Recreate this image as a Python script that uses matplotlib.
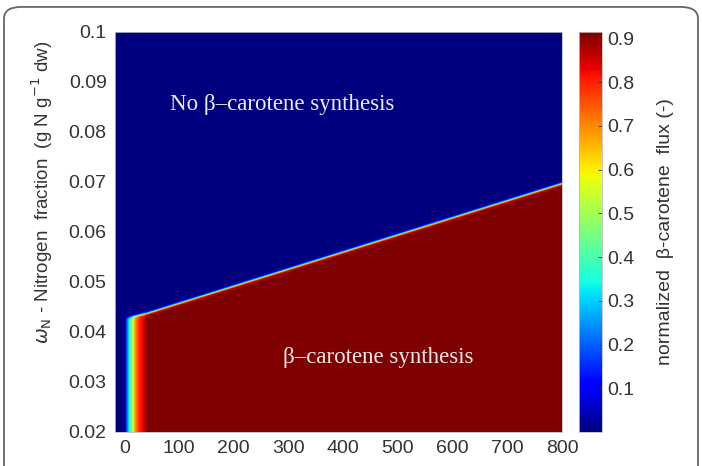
import numpy as np
import matplotlib
matplotlib.use("Agg")
import matplotlib.pyplot as plt
from matplotlib.patches import FancyBboxPatch

light_pts = [-17, 0, 2, 7, 13, 16, 20, 27, 37, 40, 800]
flux_pts = [0.0, 0.0, 0.1, 0.3, 0.45, 0.6, 0.7, 0.8, 0.85, 0.915, 0.915]

# nitrogen threshold above which synthesis stops
border_x = [-17, 0, 40, 800]
border_y = [0.0428, 0.0428, 0.0437, 0.0697]

cbar_ticks = [0.1, 0.2, 0.3, 0.4, 0.5, 0.6, 0.7, 0.8, 0.9]
x_ticks = [0, 100, 200, 300, 400, 500, 600, 700, 800]
y_ticks = [0.02, 0.03, 0.04, 0.05, 0.06, 0.07, 0.08, 0.09, 0.1]

xg = np.linspace(-17, 800, 900)
yg = np.linspace(0.02, 0.1, 1200)
X, Y = np.meshgrid(xg, yg)
prof = np.interp(X, light_pts, flux_pts)
yb = np.interp(X, border_x, border_y)
Z = prof / (1 + np.exp((Y - yb) / 0.00014))

plt.rcParams['font.family'] = ['Liberation Sans', 'DejaVu Sans']
fig = plt.figure(figsize=(7.02, 4.66), dpi=100)

frame = FancyBboxPatch((4 / 702, -0.1), 694 / 702, 1 - 6 / 466 + 0.1 - 0.002,
                       boxstyle="round,pad=0,rounding_size=0.025",
                       transform=fig.transFigure, facecolor='none',
                       edgecolor='#666666', linewidth=1.3, zorder=5)
fig.patches.append(frame)

ax = fig.add_axes([115 / 702, 34 / 466, 447 / 702, 400 / 466])
im = ax.imshow(Z, extent=[-17, 800, 0.02, 0.1], origin='lower', aspect='auto',
               cmap='jet', vmin=0, vmax=0.915, interpolation='bilinear')
ax.set_xlim(-17, 800)
ax.set_ylim(0.02, 0.1)
ax.set_xticks(x_ticks)
ax.set_yticks(y_ticks)
ax.set_yticklabels(['0.02', '0.03', '0.04', '0.05', '0.06', '0.07', '0.08', '0.09', '0.1'])
ax.tick_params(labelsize=14, colors='#333333', length=0, pad=6)
for s in ax.spines.values():
    s.set_color('#bbbbbb')
    s.set_linewidth(0.6)
ax.set_ylabel(r'$\omega_{\rm N}$ - Nitrogen  fraction  (g N g$^{-1}$ dw)',
              fontsize=13.5, color='#333333')
ax.yaxis.set_label_coords(-0.135, 0.6)

ax.text(289, 0.0855, 'No β–carotene synthesis', family=['Liberation Serif', 'DejaVu Serif'],
        fontsize=16.5, color='#ececf4', ha='center', va='center')
ax.text(464, 0.035, 'β–carotene synthesis', family=['Liberation Serif', 'DejaVu Serif'],
        fontsize=16.5, color='#f4e8e8', ha='center', va='center')

cax = fig.add_axes([579 / 702, 34 / 466, 23 / 702, 400 / 466])
cb = fig.colorbar(im, cax=cax, ticks=cbar_ticks)
cb.outline.set_edgecolor('#bbbbbb')
cb.outline.set_linewidth(0.6)
cax.tick_params(labelsize=14, colors='#333333', direction='in', length=3, width=0.6, pad=4)
cb.set_label('normalized  β-carotene  flux (-)', fontsize=14, color='#333333', labelpad=16)

fig.savefig('out.png', dpi=100)
